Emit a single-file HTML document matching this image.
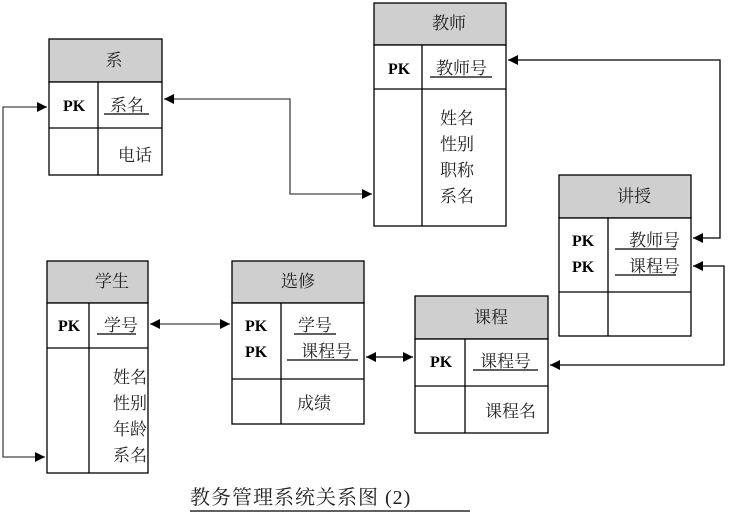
<!DOCTYPE html>
<html><head><meta charset="utf-8"><style>
body{margin:0;background:#fff;}
svg{display:block;}
text{font-family:"Liberation Serif","Noto Serif CJK SC","Noto Sans CJK SC",serif;font-size:17px;fill:#222;}
.pk{font-weight:bold;font-size:16px;fill:#000;}
.h{fill:#cfcfcf;stroke:#000;stroke-width:1.3;}
.b{fill:#fff;stroke:#000;stroke-width:1.3;}
.l{stroke:#000;stroke-width:1.3;fill:none;}
.c{stroke:#444;stroke-width:1.3;fill:none;}
</style></head><body>
<svg width="730" height="520" viewBox="0 0 730 520" xmlns="http://www.w3.org/2000/svg">
<defs>
<marker id="a" viewBox="0 0 10 10" refX="10" refY="5" markerWidth="14" markerHeight="10" markerUnits="userSpaceOnUse" orient="auto-start-reverse"><path d="M0,0 L10,5 L0,10 z" fill="#000"/></marker>
</defs>

<!-- 系 -->
<rect class="h" x="49" y="39" width="113" height="43"/>
<rect class="b" x="49" y="82" width="113" height="93"/>
<line class="l" x1="49" y1="128" x2="162" y2="128"/>
<line class="l" x1="98" y1="82" x2="98" y2="175"/>
<text x="114" y="66" text-anchor="middle">系</text>
<text class="pk" x="63" y="111">PK</text>
<text x="110" y="111">系名</text><line class="l" x1="104" y1="114" x2="149" y2="114" stroke-width="1"/>
<text x="118" y="161">电话</text>

<!-- 教师 -->
<rect class="h" x="374" y="3" width="132" height="42"/>
<rect class="b" x="374" y="45" width="132" height="181"/>
<line class="l" x1="374" y1="89" x2="506" y2="89"/>
<line class="l" x1="422" y1="45" x2="422" y2="226"/>
<text x="449" y="29" text-anchor="middle">教师</text>
<text class="pk" x="388" y="74">PK</text>
<text x="436" y="74">教师号</text><line class="l" x1="430" y1="77" x2="492" y2="77" stroke-width="1"/>
<text x="440" y="124">姓名</text>
<text x="440" y="150">性别</text>
<text x="440" y="176">职称</text>
<text x="440" y="202">系名</text>

<!-- 讲授 -->
<rect class="h" x="559" y="175" width="132" height="43"/>
<rect class="b" x="559" y="218" width="132" height="118"/>
<line class="l" x1="559" y1="292" x2="691" y2="292"/>
<line class="l" x1="608" y1="218" x2="608" y2="336"/>
<text x="634" y="202" text-anchor="middle">讲授</text>
<text class="pk" x="572" y="246">PK</text>
<text class="pk" x="572" y="272">PK</text>
<text x="629" y="246">教师号</text><line class="l" x1="615" y1="249" x2="676" y2="249" stroke-width="1"/>
<text x="629" y="272">课程号</text><line class="l" x1="615" y1="275" x2="676" y2="275" stroke-width="1"/>

<!-- 学生 -->
<rect class="h" x="47" y="261" width="101" height="42"/>
<rect class="b" x="47" y="303" width="101" height="170"/>
<line class="l" x1="47" y1="348" x2="148" y2="348"/>
<line class="l" x1="89" y1="303" x2="89" y2="473"/>
<text x="112" y="287" text-anchor="middle">学生</text>
<text class="pk" x="58" y="331">PK</text>
<text x="104" y="331">学号</text><line class="l" x1="97" y1="334" x2="136" y2="334" stroke-width="1"/>
<text x="113" y="383">姓名</text>
<text x="113" y="409">性别</text>
<text x="113" y="435">年龄</text>
<text x="113" y="461">系名</text>

<!-- 选修 -->
<rect class="h" x="232" y="261" width="132" height="42"/>
<rect class="b" x="232" y="303" width="132" height="121"/>
<line class="l" x1="232" y1="379" x2="364" y2="379"/>
<line class="l" x1="281" y1="303" x2="281" y2="424"/>
<text x="298" y="287" text-anchor="middle">选修</text>
<text class="pk" x="245" y="331">PK</text>
<text class="pk" x="245" y="357">PK</text>
<text x="298" y="331">学号</text><line class="l" x1="294" y1="334" x2="336" y2="334" stroke-width="1"/>
<text x="301" y="357">课程号</text><line class="l" x1="287" y1="360" x2="358" y2="360" stroke-width="1"/>
<text x="297" y="409">成绩</text>

<!-- 课程 -->
<rect class="h" x="415" y="296" width="133" height="43"/>
<rect class="b" x="415" y="339" width="133" height="94"/>
<line class="l" x1="415" y1="386" x2="548" y2="386"/>
<line class="l" x1="465" y1="339" x2="465" y2="433"/>
<text x="491" y="323" text-anchor="middle">课程</text>
<text class="pk" x="430" y="367">PK</text>
<text x="480" y="367">课程号</text><line class="l" x1="473" y1="370" x2="538" y2="370" stroke-width="1"/>
<text x="485" y="417">课程名</text>

<!-- connectors -->
<polyline class="c" points="164,99 290,99 290,194 372,194" marker-start="url(#a)" marker-end="url(#a)"/>
<polyline class="c" points="45,457 3,457 3,107 47,107" marker-start="url(#a)" marker-end="url(#a)"/>
<polyline class="c" points="508,60 720,60 720,238 693,238" marker-start="url(#a)" marker-end="url(#a)" style="stroke:#000"/>
<polyline class="c" points="693,266 724,266 724,365 550,365" marker-start="url(#a)" marker-end="url(#a)" style="stroke:#000"/>
<line class="c" x1="150" y1="324" x2="230" y2="324" marker-start="url(#a)" marker-end="url(#a)"/>
<line class="c" x1="366" y1="357" x2="413" y2="357" marker-start="url(#a)" marker-end="url(#a)" style="stroke:#000"/>

<!-- caption -->
<text x="190" y="504" style="font-size:20px;letter-spacing:1px">教务管理系统关系图 (2)</text>
<line class="l" x1="190" y1="511" x2="470" y2="511" stroke-width="1"/>
</svg>
</body></html>
